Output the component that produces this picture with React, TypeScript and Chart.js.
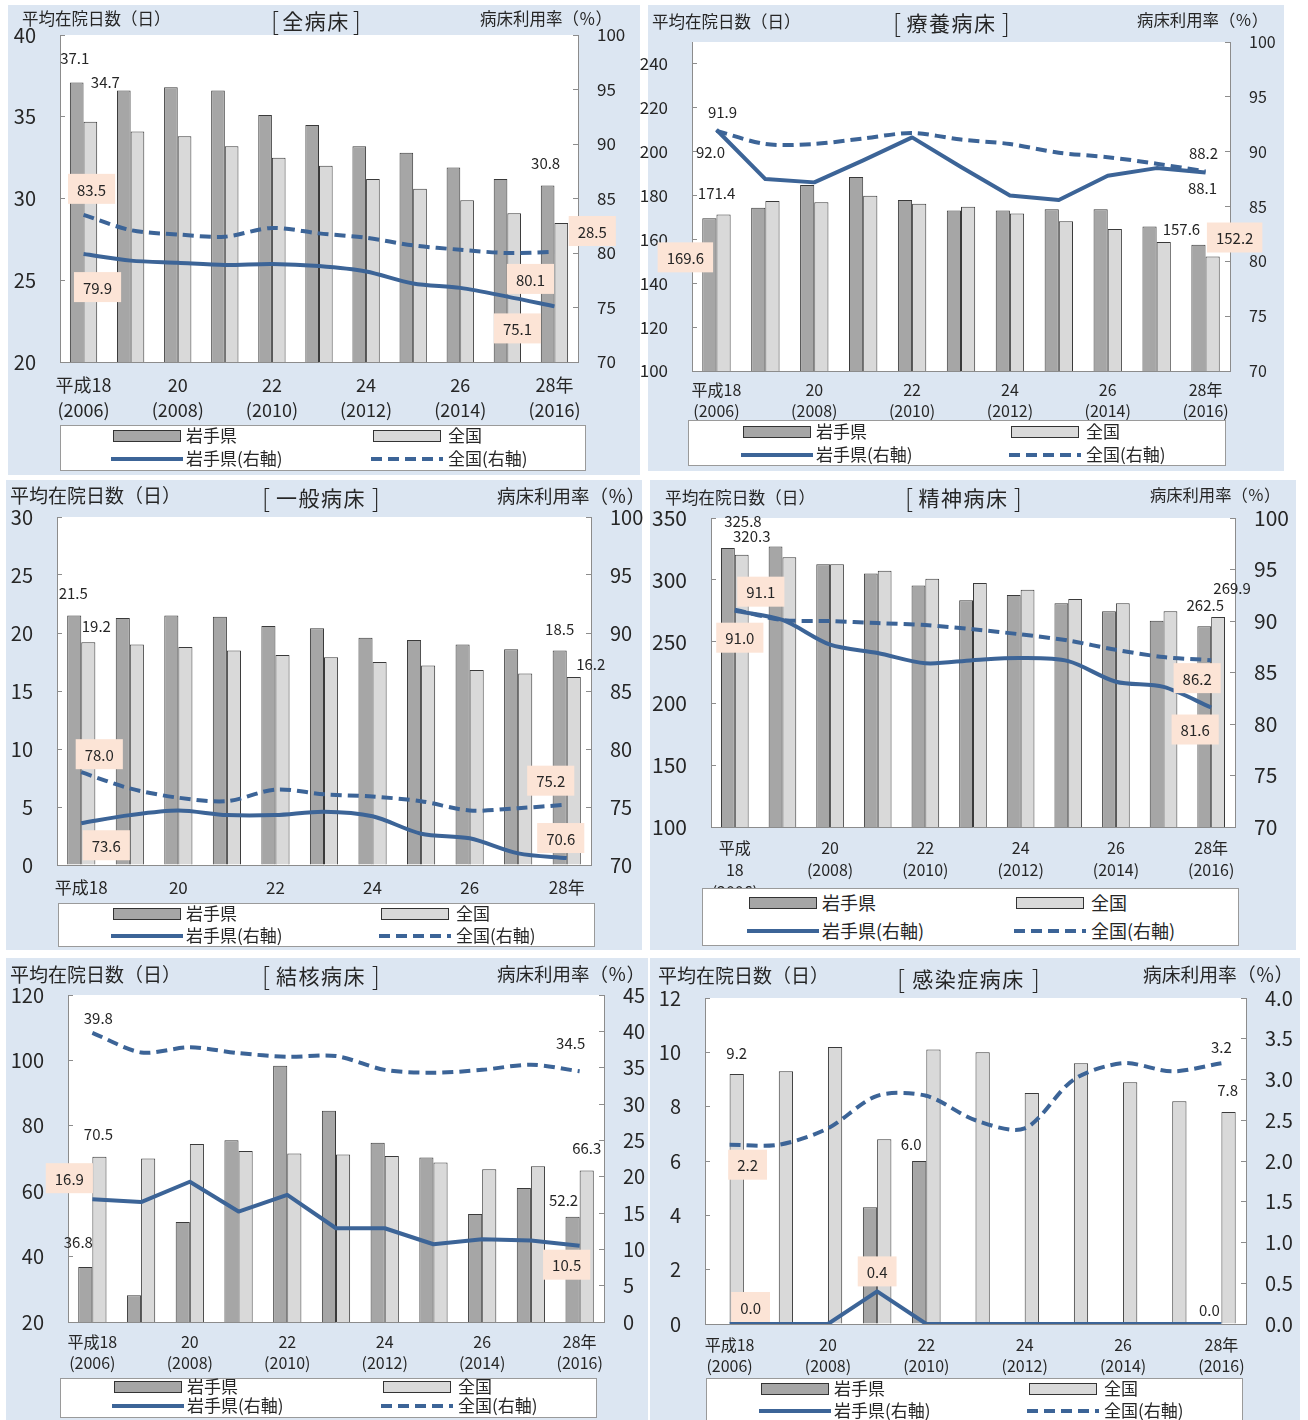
import React, { useEffect, useRef } from 'react';
import { Chart, registerables } from 'chart.js';
Chart.register(...registerables);

const FONT = '"Noto Sans CJK JP", "Noto Sans", sans-serif';
const BG = '#dce6f2';
const IWATE_BAR = '#a6a6a6';
const NATION_BAR = '#d9d9d9';
const BAR_EDGE = '#3a3a3a';
const LINE = '#3c6497';
const PEACH = '#fce4d6';
const AXIS = '#8c8c8c';
const TEXT = '#262626';

// ---- tick labels / names ----
const xLabels = [['平成18', '(2006)'], '', ['20', '(2008)'], '', ['22', '(2010)'], '', ['24', '(2012)'], '', ['26', '(2014)'], '', ['28年', '(2016)']];
const xLabelsSeishin = [['平成', '18', '(2006)'], '', ['20', '(2008)'], '', ['22', '(2010)'], '', ['24', '(2012)'], '', ['26', '(2014)'], '', ['28年', '(2016)']];
const seriesNames = ['岩手県', '全国', '岩手県(右軸)', '全国(右軸)'];
const leftTitle = '平均在院日数（日）';
const rightTitle = '病床利用率（％）';

// ---- 全病床 ----
const allIwateDays = [37.1, 36.6, 36.8, 36.6, 35.1, 34.5, 33.2, 32.8, 31.9, 31.2, 30.8];
const allNationDays = [34.7, 34.1, 33.8, 33.2, 32.5, 32.0, 31.2, 30.6, 29.9, 29.1, 28.5];
const allIwateRate = [79.9, 79.3, 79.1, 78.9, 79.0, 78.8, 78.3, 77.2, 76.8, 76.0, 75.1];
const allNationRate = [83.5, 82.1, 81.7, 81.5, 82.3, 81.8, 81.4, 80.7, 80.3, 80.0, 80.1];

// ---- 療養病床 ----
const ryoIwateDays = [169.6, 174.4, 184.8, 188.4, 178.0, 173.2, 173.2, 173.8, 173.8, 165.9, 157.6];
const ryoNationDays = [171.4, 177.5, 176.9, 179.9, 176.2, 174.9, 171.8, 168.3, 164.7, 158.8, 152.2];
const ryoIwateRate = [92.0, 87.5, 87.2, 89.2, 91.3, 88.6, 86.0, 85.6, 87.8, 88.5, 88.1];
const ryoNationRate = [91.9, 90.7, 90.7, 91.2, 91.7, 91.1, 90.7, 89.9, 89.5, 88.9, 88.2];

// ---- 一般病床 ----
const ippanIwateDays = [21.5, 21.3, 21.5, 21.4, 20.6, 20.4, 19.6, 19.4, 19.0, 18.6, 18.5];
const ippanNationDays = [19.2, 19.0, 18.8, 18.5, 18.1, 17.9, 17.5, 17.2, 16.8, 16.5, 16.2];
const ippanIwateRate = [73.6, 74.3, 74.7, 74.3, 74.3, 74.6, 74.2, 72.7, 72.3, 71.0, 70.6];
const ippanNationRate = [78.0, 76.6, 75.8, 75.5, 76.5, 76.1, 75.9, 75.5, 74.7, 74.9, 75.2];

// ---- 精神病床 ----
const seishinIwateDays = [325.8, 326.9, 312.5, 305.0, 295.3, 283.4, 287.7, 281.0, 274.5, 266.9, 262.5];
const seishinNationDays = [320.3, 318.2, 312.6, 307.4, 300.9, 297.4, 292.0, 284.5, 281.0, 274.5, 269.9];
const seishinIwateRate = [91.0, 90.1, 87.7, 86.9, 85.9, 86.2, 86.4, 86.1, 84.1, 83.6, 81.6];
const seishinNationRate = [91.1, 90.1, 90.0, 89.8, 89.6, 89.2, 88.7, 88.1, 87.2, 86.5, 86.2];

// ---- 結核病床 ----
const kekkakuIwateDays = [36.8, 28.2, 50.6, 75.6, 98.4, 84.6, 74.8, 70.3, 53.0, 61.0, 52.2];
const kekkakuNationDays = [70.5, 70.0, 74.4, 72.3, 71.5, 71.2, 70.8, 68.8, 66.7, 67.6, 66.3];
const kekkakuIwateRate = [16.9, 16.5, 19.3, 15.2, 17.5, 12.9, 12.9, 10.7, 11.4, 11.2, 10.5];
const kekkakuNationRate = [39.8, 37.1, 37.8, 37.0, 36.5, 36.6, 34.7, 34.3, 34.7, 35.4, 34.5];

// ---- 感染症病床 ----
const kansenIwateDays = [0, 0, 0, 4.3, 6.0, 0, 0, 0, 0, 0, 0];
const kansenNationDays = [9.2, 9.3, 10.2, 6.8, 10.1, 10.0, 8.5, 9.6, 8.9, 8.2, 7.8];
const kansenIwateRate = [0, 0, 0, 0.4, 0, 0, 0, 0, 0, 0, 0];
const kansenNationRate = [2.2, 2.2, 2.4, 2.8, 2.8, 2.5, 2.4, 3.0, 3.2, 3.1, 3.2];

type Lbl = { ds: number; i: number; dx: number; dy: number; box?: boolean };

const panels: any[] = [
  {
    title: '全病床',
    bg: [8, 5, 632, 470], plot: [60, 35, 578, 362],
    labels: xLabels, iwateDays: allIwateDays, nationDays: allNationDays, iwateRate: allIwateRate, nationRate: allNationRate,
    left: { min: 20, max: 40, step: 5, size: 20 }, right: { min: 70, max: 100, step: 5, size: 17, dec: 0 },
    xFont: 18, xLh: 25, xPad: 10.5, tension: [0.3, 0.3],
    titles: { l: [22, 19, 16.5], c: [271, 20, 90], r: [480, 19, 16.5] },
    legend: [60, 425, 526, 46, 52, 312, 10, 33, 17],
    dl: [
      { ds: 0, i: 0, dx: -2, dy: -25 }, { ds: 1, i: 0, dx: 15, dy: -40 },
      { ds: 0, i: 10, dx: -2, dy: -23 }, { ds: 1, i: 10, dx: 31, dy: 8, box: true },
      { ds: 3, i: 0, dx: 8, dy: -26, box: true }, { ds: 2, i: 0, dx: 14, dy: 33, box: true },
      { ds: 3, i: 10, dx: -24, dy: 27, box: true }, { ds: 2, i: 10, dx: -37, dy: 22, box: true },
    ] as Lbl[],
  },
  {
    title: '療養病床',
    bg: [648, 5, 636, 466], plot: [692, 42, 1230, 371],
    labels: xLabels, iwateDays: ryoIwateDays, nationDays: ryoNationDays, iwateRate: ryoIwateRate, nationRate: ryoNationRate,
    left: { min: 100, max: 250, step: 20, size: 17, skip: 250 }, right: { min: 70, max: 100, step: 5, size: 16, dec: 0 },
    xFont: 16, xLh: 21, xPad: 8.5, tension: [0, 0.3],
    titles: { l: [652, 22, 16.5], c: [893, 22, 117], r: [1137, 20, 16.4] },
    legend: [688, 420, 538, 46, 54, 322, 11, 34, 17],
    dl: [
      { ds: 3, i: 0, dx: 6, dy: -20 }, { ds: 2, i: 0, dx: -6, dy: 22 },
      { ds: 1, i: 0, dx: -7, dy: -22 }, { ds: 0, i: 0, dx: -24, dy: 39, box: true },
      { ds: 0, i: 10, dx: -17, dy: -16 }, { ds: 1, i: 10, dx: 22, dy: -19, box: true },
      { ds: 3, i: 10, dx: -2, dy: -19 }, { ds: 2, i: 10, dx: -3, dy: 15 },
    ] as Lbl[],
  },
  {
    title: '一般病床',
    bg: [6, 480, 636, 470], plot: [57, 517, 591, 865],
    labels: xLabels, iwateDays: ippanIwateDays, nationDays: ippanNationDays, iwateRate: ippanIwateRate, nationRate: ippanNationRate,
    left: { min: 0, max: 30, step: 5, size: 20 }, right: { min: 70, max: 100, step: 5, size: 20, dec: 0 },
    xFont: 17, xLh: 24, xPad: 11, tension: [0.3, 0.3],
    titles: { l: [10, 496, 19], c: [262, 497, 118], r: [497, 495, 18.5] },
    legend: [58, 903, 537, 44, 54, 322, 10, 32, 17],
    dl: [
      { ds: 0, i: 0, dx: -1, dy: -23 }, { ds: 1, i: 0, dx: 8, dy: -17 },
      { ds: 0, i: 10, dx: 0, dy: -22 }, { ds: 1, i: 10, dx: 17, dy: -14 },
      { ds: 3, i: 0, dx: 18, dy: -18, box: true }, { ds: 2, i: 0, dx: 25, dy: 22, box: true },
      { ds: 3, i: 10, dx: -16, dy: -24, box: true }, { ds: 2, i: 10, dx: -6, dy: -20, box: true },
    ] as Lbl[],
  },
  {
    title: '精神病床',
    bg: [650, 480, 646, 470], plot: [711, 518, 1235, 827],
    labels: xLabelsSeishin, iwateDays: seishinIwateDays, nationDays: seishinNationDays, iwateRate: seishinIwateRate, nationRate: seishinNationRate,
    left: { min: 100, max: 350, step: 50, size: 21 }, right: { min: 70, max: 100, step: 5, size: 21, dec: 0 },
    xFont: 16, xLh: 22, xPad: 10, tension: [0.3, 0.3],
    titles: { l: [665, 497, 16.7], c: [905, 497, 117], r: [1150, 495, 16.3] },
    legend: [702, 888, 537, 58, 46, 313, 14, 42, 18],
    dl: [
      { ds: 0, i: 0, dx: 15, dy: -28 }, { ds: 1, i: 0, dx: 10, dy: -19 },
      { ds: 1, i: 10, dx: 14, dy: -30 }, { ds: 0, i: 10, dx: 1, dy: -22 },
      { ds: 3, i: 0, dx: 26, dy: -18, box: true }, { ds: 2, i: 0, dx: 5, dy: 27, box: true },
      { ds: 3, i: 10, dx: -14, dy: 18, box: true }, { ds: 2, i: 10, dx: -16, dy: 22, box: true },
    ] as Lbl[],
  },
  {
    title: '結核病床',
    bg: [6, 958, 642, 462], plot: [68, 995, 604, 1322],
    labels: xLabels, iwateDays: kekkakuIwateDays, nationDays: kekkakuNationDays, iwateRate: kekkakuIwateRate, nationRate: kekkakuNationRate,
    left: { min: 20, max: 120, step: 20, size: 20 }, right: { min: 0, max: 45, step: 5, size: 20, dec: 0 },
    xFont: 16, xLh: 21, xPad: 9.5, tension: [0, 0.3],
    titles: { l: [10, 975, 19], c: [262, 975, 118], r: [497, 973, 18.5] },
    legend: [60, 1378, 537, 40, 53, 322, 8, 27, 17],
    dl: [
      { ds: 3, i: 0, dx: 6, dy: -15 }, { ds: 1, i: 0, dx: -1, dy: -24 },
      { ds: 0, i: 0, dx: -7, dy: -26 }, { ds: 3, i: 10, dx: -9, dy: -29 },
      { ds: 1, i: 10, dx: 0, dy: -23 }, { ds: 0, i: 10, dx: -9, dy: -17 },
      { ds: 2, i: 0, dx: -23, dy: -21, box: true }, { ds: 2, i: 10, dx: -13, dy: 19, box: true },
    ] as Lbl[],
  },
  {
    title: '感染症病床',
    bg: [650, 958, 650, 462], plot: [705, 998, 1246, 1324],
    labels: xLabels, iwateDays: kansenIwateDays, nationDays: kansenNationDays, iwateRate: kansenIwateRate, nationRate: kansenNationRate,
    left: { min: 0, max: 12, step: 2, size: 20 }, right: { min: 0, max: 4, step: 0.5, size: 20, dec: 1 },
    xFont: 16, xLh: 21, xPad: 10.5, tension: [0, 0.3],
    titles: { l: [658, 976, 19], c: [897, 978, 143], r: [1143, 975, 18.8] },
    legend: [706, 1378, 537, 46, 54, 322, 10, 32, 17],
    dl: [
      { ds: 1, i: 0, dx: 0, dy: -22 }, { ds: 0, i: 4, dx: -8, dy: -18 },
      { ds: 1, i: 10, dx: -1, dy: -23 }, { ds: 3, i: 10, dx: 0, dy: -17 },
      { ds: 3, i: 0, dx: 18, dy: 20, box: true }, { ds: 2, i: 0, dx: 21, dy: -17, box: true },
      { ds: 2, i: 3, dx: 0, dy: -20, box: true }, { ds: 2, i: 10, dx: -12, dy: -15 },
    ] as Lbl[],
  },
];

function PanelChart({ cfg }: { cfg: any }) {
  const ref = useRef<HTMLCanvasElement>(null);
  const cx = cfg.bg[0] - 8;
  const cy = cfg.bg[1];
  const cw = Math.min(cfg.bg[2] + 16, 1308 - cx);
  const ch = cfg.bg[3];
  useEffect(() => {
    const [pl, pt, pr, pb] = cfg.plot;
    const leftW = pl - cx;
    const rightW = cx + cw - pr;
    const topPad = pt - cy;
    const xH = cy + ch - pb;
    const plugin = {
      id: 'panelDeco',
      beforeDraw(chart: any) {
        const a = chart.chartArea;
        const ctx = chart.ctx;
        ctx.save();
        ctx.fillStyle = '#ffffff';
        ctx.fillRect(a.left, a.top, a.right - a.left, a.bottom - a.top);
        ctx.restore();
      },
      afterDatasetsDraw(chart: any) {
        const ctx = chart.ctx;
        ctx.save();
        ctx.font = `15px ${FONT}`;
        ctx.textAlign = 'center';
        ctx.textBaseline = 'middle';
        for (const L of cfg.dl as Lbl[]) {
          const el: any = chart.getDatasetMeta(L.ds).data[L.i];
          const v = chart.data.datasets[L.ds].data[L.i] as number;
          const t = v.toFixed(1);
          const x = el.x + L.dx;
          const y = el.y + L.dy;
          if (L.box) {
            const w = ctx.measureText(t).width + 18;
            const h = 30;
            ctx.fillStyle = PEACH;
            ctx.fillRect(x - w / 2, y - h / 2, w, h);
          }
          ctx.fillStyle = TEXT;
          ctx.fillText(t, x, y + 1);
        }
        ctx.restore();
      },
    };
    const zeroPad = (s: any) => { s.paddingTop = 0; s.paddingBottom = 0; };
    const chart = new Chart(ref.current as HTMLCanvasElement, {
      type: 'bar',
      data: {
        labels: cfg.labels,
        datasets: [
          { type: 'bar', label: seriesNames[0], data: cfg.iwateDays, backgroundColor: IWATE_BAR, borderColor: BAR_EDGE, borderWidth: 1, yAxisID: 'y', order: 2, categoryPercentage: 0.58, barPercentage: 1 },
          { type: 'bar', label: seriesNames[1], data: cfg.nationDays, backgroundColor: NATION_BAR, borderColor: BAR_EDGE, borderWidth: 1, yAxisID: 'y', order: 2, categoryPercentage: 0.58, barPercentage: 1 },
          { type: 'line', label: seriesNames[2], data: cfg.iwateRate, borderColor: LINE, backgroundColor: LINE, borderWidth: 4, pointRadius: 0, tension: cfg.tension[0], fill: false, yAxisID: 'y1', order: 0, borderJoinStyle: 'round' },
          { type: 'line', label: seriesNames[3], data: cfg.nationRate, borderColor: LINE, backgroundColor: LINE, borderWidth: 4, borderDash: [11, 6], pointRadius: 0, tension: cfg.tension[1], fill: false, yAxisID: 'y1', order: 0 },
        ] as any,
      },
      options: {
        animation: false,
        responsive: false,
        maintainAspectRatio: false,
        layout: { padding: { top: topPad, left: 0, right: 0, bottom: 0 } },
        plugins: { legend: { display: false }, tooltip: { enabled: false }, title: { display: false } },
        scales: {
          x: {
            type: 'category',
            offset: true,
            grid: { display: false, drawTicks: false, tickLength: 0 },
            border: { display: true, color: AXIS, width: 1 },
            ticks: { autoSkip: false, maxRotation: 0, minRotation: 0, padding: cfg.xPad, color: TEXT, font: { family: FONT, size: cfg.xFont, lineHeight: cfg.xLh / cfg.xFont } },
            afterFit: (s: any) => { s.height = xH; s.paddingLeft = 0; s.paddingRight = 0; },
          },
          y: {
            position: 'left',
            min: cfg.left.min,
            max: cfg.left.max,
            ticks: { stepSize: cfg.left.step, color: TEXT, padding: 29, font: { family: FONT, size: cfg.left.size } },
            grid: { display: true, drawOnChartArea: false, drawTicks: true, tickLength: -5, color: AXIS },
            border: { display: true, color: AXIS, width: 1 },
            afterFit: (s: any) => { s.width = leftW; zeroPad(s); },
            afterBuildTicks: (s: any) => {
              if (cfg.left.skip !== undefined) s.ticks = s.ticks.filter((t: any) => t.value !== cfg.left.skip);
            },
          },
          y1: {
            position: 'right',
            min: cfg.right.min,
            max: cfg.right.max,
            ticks: { stepSize: cfg.right.step, color: TEXT, padding: 24, font: { family: FONT, size: cfg.right.size }, callback: (v: any) => Number(v).toFixed(cfg.right.dec) },
            grid: { display: true, drawOnChartArea: false, drawTicks: true, tickLength: -5, color: AXIS },
            border: { display: true, color: AXIS, width: 1 },
            afterFit: (s: any) => { s.width = rightW; zeroPad(s); },
          },
        },
      } as any,
      plugins: [plugin as any],
    });
    return () => chart.destroy();
  }, []);
  return <canvas ref={ref} width={cw} height={ch} style={{ position: 'absolute', left: cx, top: cy, width: cw, height: ch }} />;
}

function TextAt({ x, cy, size, text }: { x: number; cy: number; size: number; text: string }) {
  return (
    <div style={{ position: 'absolute', left: x, top: cy - size * 0.62, fontSize: size, lineHeight: 1.2, fontFamily: FONT, color: TEXT, whiteSpace: 'nowrap' }}>{text}</div>
  );
}

function BracketTitle({ x, cy, width, text }: { x: number; cy: number; width: number; text: string }) {
  const fs = 21;
  return (
    <div style={{ position: 'absolute', left: x, top: cy - 15, width, height: 30, display: 'flex', justifyContent: 'space-between', alignItems: 'center', fontFamily: FONT, color: TEXT, whiteSpace: 'nowrap' }}>
      <span style={{ fontSize: 25, lineHeight: 1, fontWeight: 300 }}>[</span>
      <span style={{ fontSize: fs, lineHeight: 1, letterSpacing: 1.5 }}>{text}</span>
      <span style={{ fontSize: 25, lineHeight: 1, fontWeight: 300 }}>]</span>
    </div>
  );
}

function Legend({ lg }: { lg: number[] }) {
  const [x, y, w, h, c1, c2, r1, r2, fs] = lg;
  const barSw = (left: number, cy: number, color: string) => (
    <div style={{ position: 'absolute', left, top: cy - 6, width: 68, height: 12, background: color, border: '1px solid #333', boxSizing: 'border-box' }} />
  );
  const lineSw = (left: number, cy: number, dashed: boolean) => (
    <div style={{ position: 'absolute', left, top: cy - 2, width: 72, height: 4, background: dashed ? `repeating-linear-gradient(to right, ${LINE} 0px, ${LINE} 11px, transparent 11px, transparent 17px)` : LINE }} />
  );
  const txt = (left: number, cy: number, t: string) => (
    <div style={{ position: 'absolute', left, top: cy - fs * 0.62, fontSize: fs, lineHeight: 1.2, fontFamily: FONT, color: TEXT, whiteSpace: 'nowrap' }}>{t}</div>
  );
  return (
    <div style={{ position: 'absolute', left: x, top: y, width: w, height: h, background: '#fff', border: '1px solid #9a9a9a', boxSizing: 'border-box' }}>
      {barSw(c1, r1, IWATE_BAR)}
      {txt(c1 + 73, r1, seriesNames[0])}
      {barSw(c2, r1, NATION_BAR)}
      {txt(c2 + 75, r1, seriesNames[1])}
      {lineSw(c1 - 2, r2, false)}
      {txt(c1 + 73, r2, seriesNames[2])}
      {lineSw(c2 - 2, r2, true)}
      {txt(c2 + 75, r2, seriesNames[3])}
    </div>
  );
}

export default function App() {
  return (
    <div style={{ position: 'absolute', left: 0, top: 0, width: 1308, height: 1420, overflow: 'hidden', background: '#fff' }}>
      {panels.map((p, k) => (
        <div key={'bg' + k} style={{ position: 'absolute', left: p.bg[0], top: p.bg[1], width: p.bg[2], height: p.bg[3], background: BG }} />
      ))}
      {panels.map((p, k) => (
        <React.Fragment key={'p' + k}>
          <PanelChart cfg={p} />
          <TextAt x={p.titles.l[0]} cy={p.titles.l[1]} size={p.titles.l[2]} text={leftTitle} />
          <BracketTitle x={p.titles.c[0]} cy={p.titles.c[1]} width={p.titles.c[2]} text={p.title} />
          <TextAt x={p.titles.r[0]} cy={p.titles.r[1]} size={p.titles.r[2]} text={rightTitle} />
          <Legend lg={p.legend} />
        </React.Fragment>
      ))}
    </div>
  );
}
